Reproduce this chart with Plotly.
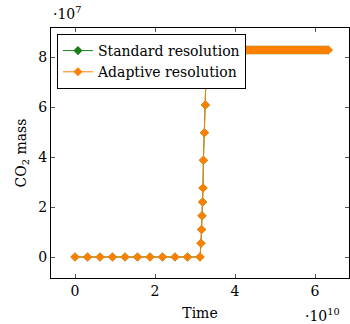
import plotly.graph_objects as go

# Time values (s) and CO2 mass (kg)
t_early = [0.0, 0.3125e10, 0.625e10, 0.9375e10, 1.25e10, 1.5625e10, 1.875e10,
           2.1875e10, 2.5e10, 2.8125e10, 3.125e10]
m_early = [0.0] * 11
t_rise = [3.15e10, 3.165e10, 3.175e10, 3.19e10, 3.2e10, 3.21e10, 3.235e10, 3.26e10, 3.275e10, 3.29e10]
m_rise = [0.55e7, 1.1e7, 1.65e7, 2.2e7, 2.76e7, 3.87e7, 4.97e7, 6.08e7, 7.2e7, 8.28e7]
t_plateau = [3.30e10, 3.35e10, 3.40e10, 3.45e10, 3.50e10, 3.55e10, 3.60e10, 3.65e10, 3.70e10,
             3.75e10, 3.80e10, 3.85e10, 3.90e10, 3.95e10, 4.00e10, 4.05e10, 4.10e10, 4.15e10,
             4.20e10, 4.25e10, 4.30e10, 4.35e10, 4.40e10, 4.45e10, 4.50e10, 4.55e10, 4.60e10,
             4.65e10, 4.70e10, 4.75e10, 4.80e10, 4.85e10, 4.90e10, 4.95e10, 5.00e10, 5.05e10,
             5.10e10, 5.15e10, 5.20e10, 5.25e10, 5.30e10, 5.35e10, 5.40e10, 5.45e10, 5.50e10,
             5.55e10, 5.60e10, 5.65e10, 5.70e10, 5.75e10, 5.80e10, 5.85e10, 5.90e10, 5.95e10,
             6.00e10, 6.05e10, 6.10e10, 6.15e10, 6.20e10, 6.25e10, 6.30e10, 6.33e10]
m_plateau = [8.28e7] * len(t_plateau)

time = t_early + t_rise + t_plateau
standard_mass = m_early + m_rise + m_plateau
adaptive_mass = m_early + m_rise + m_plateau

x_ticks = [0, 2e10, 4e10, 6e10]
x_ticktext = ["0", "2", "4", "6"]
y_ticks = [0, 2e7, 4e7, 6e7, 8e7]
y_ticktext = ["0", "2", "4", "6", "8"]

FONT = "DejaVu Serif"
GREEN = "#1a7f1a"
ORANGE = "#ff8000"

fig = go.Figure()
fig.add_trace(go.Scatter(x=time, y=standard_mass, mode="lines+markers",
                         name="Standard resolution",
                         line=dict(color=GREEN, width=1),
                         marker=dict(symbol="diamond", size=7, color=GREEN)))
fig.add_trace(go.Scatter(x=time, y=adaptive_mass, mode="lines+markers",
                         name="Adaptive resolution",
                         line=dict(color=ORANGE, width=1),
                         marker=dict(symbol="diamond", size=7, color=ORANGE)))

axis_common = dict(showline=True, linecolor="black", linewidth=1, mirror="allticks",
                   ticks="inside", ticklen=4, tickcolor="#555", showgrid=False,
                   zeroline=False, tickfont=dict(family=FONT, size=14, color="black"))

fig.update_layout(
    width=350, height=324,
    margin=dict(l=51, r=1, t=28, b=46),
    paper_bgcolor="white", plot_bgcolor="white",
    font=dict(family=FONT, size=14, color="black"),
    showlegend=True,
    legend=dict(x=0.02, y=0.976, xanchor="left", yanchor="top",
                bordercolor="black", borderwidth=1, bgcolor="white",
                font=dict(family=FONT, size=14), tracegroupgap=0,
                itemwidth=30),
    xaxis=dict(range=[-0.6e10, 6.85e10], tickvals=x_ticks, ticktext=x_ticktext,
               title=dict(text="Time", font=dict(family=FONT, size=14), standoff=10),
               **axis_common),
    yaxis=dict(range=[-0.84e7, 9.16e7], tickvals=y_ticks, ticktext=y_ticktext,
               title=dict(text="CO<sub>2</sub> mass", font=dict(family=FONT, size=14), standoff=8),
               **axis_common),
    annotations=[
        dict(text="·10<sup>7</sup>", xref="paper", yref="paper", x=0.0, y=1.0,
             xanchor="left", yanchor="bottom", yshift=4, showarrow=False,
             font=dict(family=FONT, size=14)),
        dict(text="·10<sup>10</sup>", xref="paper", yref="paper", x=0.91, y=0.0,
             xanchor="center", yanchor="top", yshift=-26, showarrow=False,
             font=dict(family=FONT, size=14)),
    ],
)

fig.write_html("out.html")
